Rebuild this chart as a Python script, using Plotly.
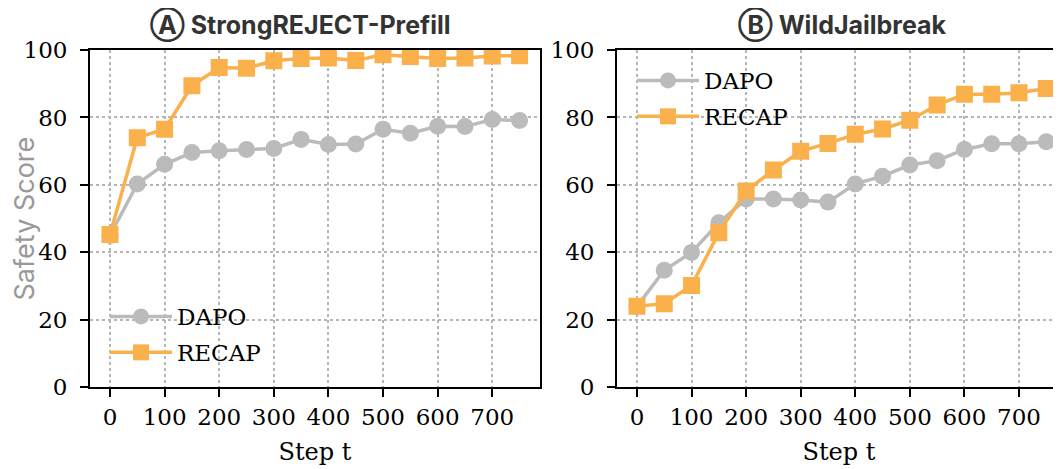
import plotly.graph_objects as go

steps = [0, 50, 100, 150, 200, 250, 300, 350, 400, 450, 500, 550, 600, 650, 700, 750]

sr_dapo = [45, 60.3, 66.1, 69.6, 70.1, 70.5, 70.8, 73.5, 72.0, 72.1, 76.5, 75.3, 77.4, 77.3, 79.4, 79.1]
sr_recap = [45.3, 74.0, 76.5, 89.4, 94.8, 94.6, 96.8, 97.5, 97.6, 96.9, 98.6, 98.1, 97.5, 97.6, 98.2, 98.3]

wj_dapo = [24.0, 34.7, 40.0, 48.8, 55.8, 55.8, 55.5, 54.9, 60.3, 62.6, 65.9, 67.2, 70.5, 72.2, 72.2, 72.8]
wj_recap = [24.0, 24.8, 30.2, 45.8, 58.2, 64.4, 70.0, 72.3, 75.0, 76.6, 79.2, 83.7, 86.9, 86.9, 87.3, 88.6]

titles = ["Ⓐ StrongREJECT-Prefill", "Ⓑ WildJailbreak"]
x_ticks = [0, 100, 200, 300, 400, 500, 600, 700]
y_ticks = [0, 20, 40, 60, 80, 100]

OFF = 8  # page body margin
W, H = 1061 - OFF, 469 - OFF
GRAY = "#BBBBBB"
ORANGE = "#FAB04B"
SERIF = "DejaVu Serif"

def px(x):
    return (x - OFF) / W

def py(y):
    return 1 - (y - OFF) / H

fig = go.Figure()

def add_series(xa, ya, dapo, recap, legend):
    fig.add_trace(go.Scatter(
        x=steps, y=dapo, name="DAPO", mode="lines+markers",
        xaxis=xa, yaxis=ya, legend=legend, legendgroup=legend + "d",
        line=dict(color=GRAY, width=3.5),
        marker=dict(symbol="circle", size=17, color=GRAY),
    ))
    fig.add_trace(go.Scatter(
        x=steps, y=recap, name="RECAP", mode="lines+markers",
        xaxis=xa, yaxis=ya, legend=legend, legendgroup=legend + "r",
        line=dict(color=ORANGE, width=3.5),
        marker=dict(symbol="square", size=17, color=ORANGE),
    ))

add_series("x", "y", sr_dapo, sr_recap, "legend")
add_series("x2", "y2", wj_dapo, wj_recap, "legend2")

ydom = [py(387.3), py(50)]
axis_common = dict(
    showline=True, linecolor="black", linewidth=1.8,
    ticks="outside", ticklen=8, tickwidth=1.5, tickcolor="black",
    showgrid=True, gridcolor="#b5b5b5", griddash="dot", gridwidth=1.5,
    zeroline=False, automargin=False,
    tickfont=dict(family=SERIF, size=23, color="black"),
)
xtitle = dict(text="Step t", font=dict(family=SERIF, size=24, color="black"), standoff=14)

fig.update_layout(
    width=W, height=H,
    margin=dict(l=0, r=0, t=0, b=0),
    paper_bgcolor="white", plot_bgcolor="white",
    xaxis=dict(domain=[px(90), px(540)], range=[-36.6, 787.4], anchor="y",
               tickvals=x_ticks, mirror=True, ticklabelstandoff=0,
               title=xtitle, **axis_common),
    yaxis=dict(domain=ydom, range=[0, 100], anchor="x", tickvals=y_ticks, mirror=True,
               ticklabelstandoff=8,
               title=dict(text="Safety Score", font=dict(family="Inter", size=27, color="#999999"), standoff=10),
               **axis_common),
    xaxis2=dict(domain=[px(617), 1.0], range=[-36.6, 777.0], anchor="y2",
                tickvals=x_ticks, mirror=True, ticklabelstandoff=0,
                title=xtitle, **axis_common),
    yaxis2=dict(domain=ydom, range=[0, 100], anchor="x2", tickvals=y_ticks, mirror=False,
                ticklabelstandoff=8, **axis_common),
    legend=dict(x=px(105), y=py(295), xanchor="left", yanchor="top",
                font=dict(family=SERIF, size=23, color="black"),
                bgcolor="rgba(0,0,0,0)", itemwidth=62, tracegroupgap=3),
    legend2=dict(x=px(632), y=py(59), xanchor="left", yanchor="top",
                 font=dict(family=SERIF, size=23, color="black"),
                 bgcolor="rgba(0,0,0,0)", itemwidth=62, tracegroupgap=3),
    showlegend=True,
)

for cx, t in zip([px(300), px(842)], titles):
    fig.add_annotation(x=cx, y=py(24), xref="paper", yref="paper",
                       text="<b>" + t + "</b>", showarrow=False,
                       xanchor="center", yanchor="middle",
                       font=dict(family="Inter, DejaVu Sans", size=25, color="#333333"))

fig.write_html("out.html")
